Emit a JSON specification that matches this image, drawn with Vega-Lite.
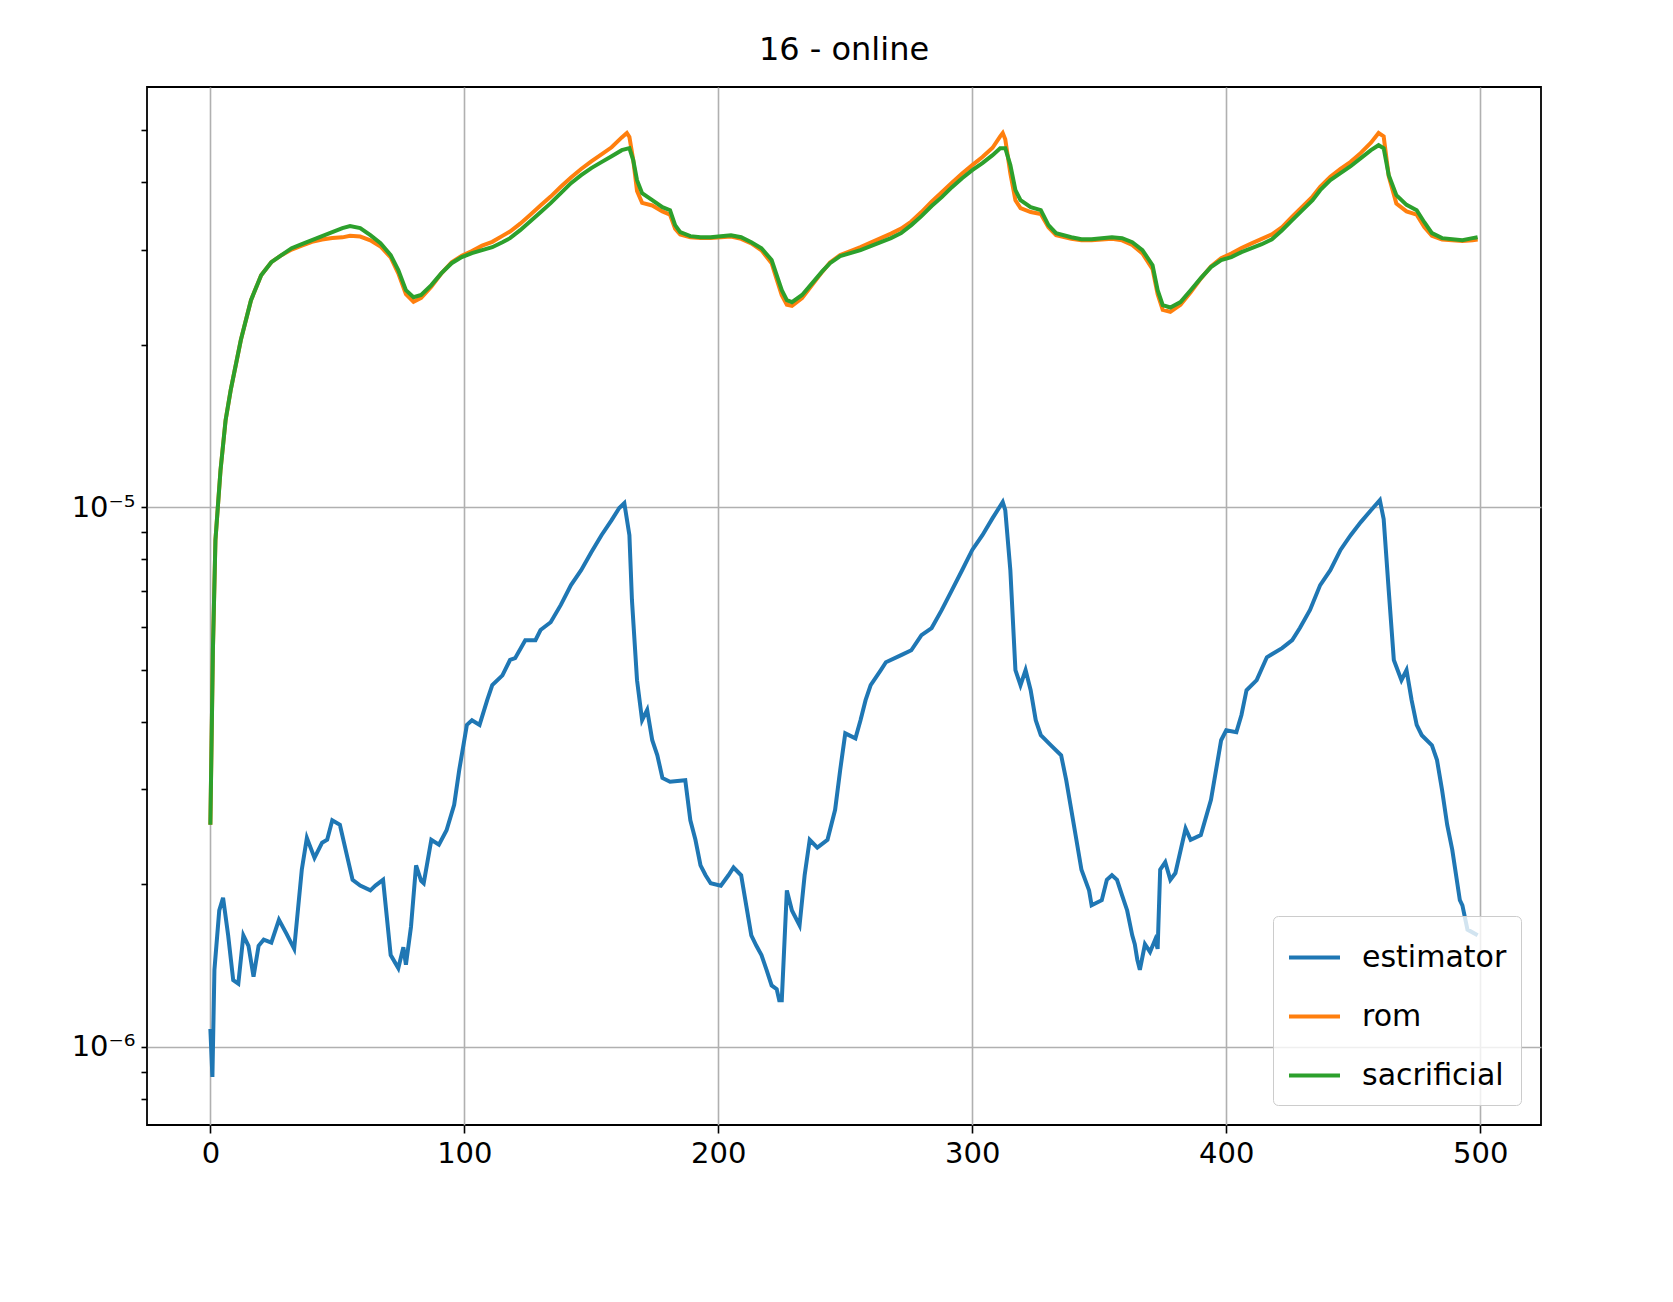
{
  "$schema": "https://vega.github.io/schema/vega-lite/v6.json",
  "autosize": "none",
  "width": 1394,
  "height": 1038,
  "padding": {"left": 147, "top": 87, "right": 132, "bottom": 177},
  "background": "white",
  "title": {"text": "16 - online", "fontSize": 32, "font": "DejaVu Sans", "fontWeight": "normal", "offset": 20, "color": "black"},
  "config": {
    "view": {"stroke": "black", "strokeWidth": 1.8},
    "axis": {"labelFont": "DejaVu Sans", "labelFontSize": 29, "labelColor": "black", "tickColor": "black", "tickWidth": 1.6, "ticks": true, "domain": false, "gridColor": "#b0b0b0", "gridWidth": 1.6, "title": null}
  },
  "data": {"values": []},
  "datasets": {
    "est": [
      [0,1.08],[0.8,0.88],[1.6,1.39],[3.5,1.79],[5,1.89],[7,1.61],[9,1.33],[11,1.31],[13,1.61],[15,1.54],[17,1.35],[19,1.54],[21,1.58],[24,1.56],[27,1.72],[30,1.62],[33,1.52],[36,2.13],[38,2.44],[41,2.24],[44,2.39],[46,2.42],[48,2.63],[51,2.58],[54,2.24],[56,2.04],[59,1.99],[63,1.95],[65,1.99],[68,2.04],[71,1.48],[74,1.40],[76,1.53],[77,1.42],[79,1.67],[81,2.17],[83,2.03],[84,2.01],[87,2.42],[90,2.37],[93,2.52],[96,2.81],[98,3.26],[101,3.95],[103,4.03],[106,3.95],[109,4.39],[111,4.68],[115,4.88],[118,5.21],[120,5.25],[124,5.67],[128,5.67],[130,5.92],[134,6.12],[138,6.59],[142,7.17],[146,7.64],[150,8.25],[154,8.87],[158,9.46],[161,9.96],[163,10.17],[165,8.87],[166,6.73],[168,4.78],[170,4.03],[172,4.21],[174,3.70],[176,3.47],[178,3.15],[181,3.10],[187,3.12],[189,2.63],[191,2.42],[193,2.17],[195,2.08],[197,2.01],[201,1.99],[204,2.08],[206,2.15],[209,2.08],[211,1.83],[213,1.61],[215,1.54],[217,1.48],[219,1.39],[221,1.30],[223,1.28],[224,1.22],[225,1.22],[227,1.95],[229,1.79],[232,1.68],[234,2.08],[236,2.42],[239,2.34],[243,2.42],[246,2.75],[248,3.26],[250,3.81],[254,3.73],[256,4.03],[258,4.39],[260,4.68],[264,4.99],[266,5.16],[272,5.32],[276,5.43],[280,5.79],[284,5.97],[288,6.45],[292,7.02],[296,7.64],[300,8.33],[304,8.87],[308,9.54],[312,10.22],[313,9.87],[315,7.64],[317,4.99],[319,4.68],[321,4.99],[323,4.58],[325,4.03],[327,3.78],[331,3.62],[335,3.47],[337,3.12],[339,2.75],[341,2.42],[343,2.13],[346,1.95],[347,1.83],[351,1.87],[353,2.04],[355,2.08],[357,2.04],[359,1.91],[361,1.79],[363,1.61],[364,1.55],[365,1.45],[366,1.39],[368,1.55],[370,1.50],[372,1.58],[373,1.52],[374,2.13],[376,2.20],[378,2.04],[380,2.10],[384,2.54],[386,2.42],[390,2.47],[394,2.87],[398,3.70],[400,3.86],[404,3.83],[406,4.12],[408,4.58],[412,4.78],[416,5.27],[422,5.48],[426,5.67],[429,5.97],[433,6.45],[437,7.17],[441,7.64],[445,8.33],[449,8.87],[453,9.38],[457,9.87],[460.5,10.3],[462,9.5],[464,7.0],[466,5.21],[469,4.78],[471,4.99],[473,4.39],[475,3.95],[477,3.78],[481,3.62],[483,3.40],[485,2.99],[487,2.58],[489,2.32],[492,1.87],[493,1.83],[495,1.65],[499,1.61]
    ],
    "rom": [
      [0,2.58],[1,5.43],[2,8.69],[4,11.71],[6,14.49],[8,16.47],[12,20.39],[16,24.17],[20,26.89],[24,28.42],[28,29.29],[32,30.0],[36,30.5],[40,31.0],[44,31.3],[48,31.5],[52,31.6],[55,31.8],[59,31.7],[63,31.2],[67,30.4],[71,29.0],[74,27.1],[77,24.8],[80,24.0],[83,24.4],[87,25.6],[91,27.1],[95,28.4],[99,29.2],[103,29.8],[107,30.5],[111,31.0],[115,31.8],[118,32.4],[122,33.5],[126,34.8],[130,36.2],[134,37.6],[138,39.2],[142,40.8],[146,42.3],[150,43.7],[154,45.0],[158,46.4],[162,48.4],[164,49.3],[165,48.5],[166.5,44.0],[168,38.5],[170,36.6],[174,36.2],[178,35.3],[181,34.8],[183,32.8],[185,32.0],[189,31.6],[193,31.5],[197,31.5],[201,31.6],[205,31.7],[209,31.4],[213,30.8],[217,29.9],[221,28.3],[223,26.4],[225,24.7],[227,23.7],[229,23.6],[233,24.4],[237,25.8],[241,27.3],[244,28.4],[248,29.3],[252,29.8],[256,30.3],[260,30.9],[264,31.5],[268,32.1],[272,32.8],[276,33.8],[280,35.2],[284,36.8],[288,38.3],[292,39.9],[296,41.5],[300,43.0],[304,44.5],[308,46.3],[311,48.6],[312,49.3],[313,48.0],[315,41.5],[317,37.0],[319,35.8],[323,35.2],[327,34.9],[330,33.0],[333,31.9],[339,31.4],[343,31.2],[347,31.2],[351,31.3],[355,31.4],[359,31.2],[363,30.6],[367,29.5],[371,27.6],[373,24.8],[375,23.2],[378,23.0],[382,23.7],[386,25.0],[390,26.5],[394,27.9],[398,28.9],[402,29.5],[406,30.2],[410,30.8],[414,31.4],[418,32.0],[422,33.0],[426,34.5],[430,36.0],[434,37.6],[437,39.2],[441,40.9],[445,42.3],[449,43.6],[453,45.3],[457,47.3],[460,49.3],[462,48.6],[464,41.0],[467,36.5],[471,35.3],[475,34.8],[478,33.0],[481,31.8],[485,31.3],[493,31.1],[497,31.2],[499,31.3]
    ],
    "sac": [
      [0,2.58],[1,5.43],[2,8.69],[4,11.71],[6,14.49],[8,16.47],[12,20.39],[16,24.17],[20,26.89],[24,28.42],[28,29.29],[32,30.17],[36,30.69],[40,31.22],[44,31.76],[48,32.31],[52,32.87],[55,33.15],[59,32.87],[63,31.89],[67,30.82],[71,29.29],[74,27.48],[77,25.22],[80,24.48],[83,24.71],[87,25.77],[91,27.13],[95,28.30],[99,29.04],[103,29.54],[107,29.92],[111,30.30],[115,30.95],[118,31.49],[122,32.58],[126,33.85],[130,35.18],[134,36.56],[138,38.15],[142,39.81],[146,41.19],[150,42.45],[154,43.55],[158,44.67],[162,45.83],[165,46.22],[166.5,43.93],[168,40.33],[170,38.15],[174,37.03],[178,35.93],[181,35.48],[183,33.29],[185,32.31],[189,31.76],[193,31.62],[197,31.62],[201,31.76],[205,31.89],[209,31.62],[213,30.95],[217,30.17],[221,28.68],[223,26.89],[225,25.22],[227,24.17],[229,23.97],[233,24.71],[237,25.99],[241,27.35],[244,28.30],[248,29.16],[252,29.54],[256,29.92],[260,30.43],[264,30.95],[268,31.49],[272,32.17],[276,33.29],[280,34.59],[284,36.11],[288,37.51],[292,39.14],[296,40.67],[300,42.08],[304,43.36],[308,44.86],[311,46.22],[313,46.22],[315,43.04],[317,38.64],[319,37.03],[323,35.93],[327,35.48],[330,33.29],[333,32.17],[339,31.62],[343,31.35],[347,31.35],[351,31.49],[355,31.62],[359,31.49],[363,30.95],[367,29.92],[371,28.06],[373,25.22],[375,23.66],[378,23.43],[382,23.97],[386,25.22],[390,26.55],[394,27.83],[398,28.68],[402,29.04],[406,29.67],[410,30.17],[414,30.69],[418,31.35],[422,32.58],[426,34.00],[430,35.48],[434,37.03],[437,38.64],[441,40.33],[445,41.54],[449,42.80],[453,44.29],[457,45.83],[460,46.81],[462,46.22],[464,41.19],[467,37.83],[471,36.30],[475,35.48],[478,33.70],[481,32.17],[485,31.49],[493,31.22],[497,31.49],[499,31.62]
    ]
  },
  "layer": [
    {
      "data": {"name": "est"},
      "transform": [
        {"calculate": "'estimator'", "as": "series"},
        {"calculate": "datum[0]", "as": "x"},
        {"calculate": "datum[1] * 1e-6", "as": "v"}
      ],
      "mark": {"type": "line", "strokeWidth": 4, "clip": true},
      "encoding": {}
    },
    {
      "data": {"name": "rom"},
      "transform": [
        {"calculate": "'rom'", "as": "series"},
        {"calculate": "datum[0]", "as": "x"},
        {"calculate": "datum[1] * 1e-6", "as": "v"}
      ],
      "mark": {"type": "line", "strokeWidth": 4, "clip": true},
      "encoding": {}
    },
    {
      "data": {"name": "sac"},
      "transform": [
        {"calculate": "'sacrificial'", "as": "series"},
        {"calculate": "datum[0]", "as": "x"},
        {"calculate": "datum[1] * 1e-6", "as": "v"}
      ],
      "mark": {"type": "line", "strokeWidth": 4, "clip": true},
      "encoding": {}
    }
  ],
  "encoding": {
    "x": {
      "field": "x", "type": "quantitative",
      "scale": {"domain": [-24.95, 523.95], "nice": false, "zero": false},
      "axis": {"values": [0, 100, 200, 300, 400, 500], "grid": true, "tickSize": 8, "labelPadding": 6}
    },
    "y": {
      "field": "v", "type": "quantitative",
      "scale": {"type": "log", "domain": [7.17e-7, 6.0e-5], "nice": false},
      "axis": {
        "values": [8e-7, 9e-7, 1e-6, 2e-6, 3e-6, 4e-6, 5e-6, 6e-6, 7e-6, 8e-6, 9e-6, 1e-5, 2e-5, 3e-5, 4e-5, 5e-5],
        "grid": true,
        "tickSize": 6,
        "labelExpr": "abs(datum.value - 1e-6) < 1e-9 ? '10⁻⁶' : (abs(datum.value - 1e-5) < 1e-8 ? '10⁻⁵' : '')",
        "gridOpacity": {"condition": {"test": "abs(datum.value - 1e-6) < 1e-9 || abs(datum.value - 1e-5) < 1e-8", "value": 1}, "value": 0},
        "labelPadding": 6
      }
    },
    "color": {
      "field": "series", "type": "nominal",
      "scale": {"domain": ["estimator", "rom", "sacrificial"], "range": ["#1f77b4", "#ff7f0e", "#2ca02c"]},
      "legend": {
        "title": null, "orient": "bottom-right", "offset": 20,
        "symbolType": "stroke", "symbolStrokeWidth": 4, "symbolSize": 2600,
        "labelFontSize": 30, "labelFont": "DejaVu Sans", "labelColor": "black",
        "rowPadding": 16, "padding": 14, "labelOffset": 20,
        "fillColor": "rgba(255,255,255,0.8)", "strokeColor": "#cccccc", "cornerRadius": 5
      }
    }
  }
}
